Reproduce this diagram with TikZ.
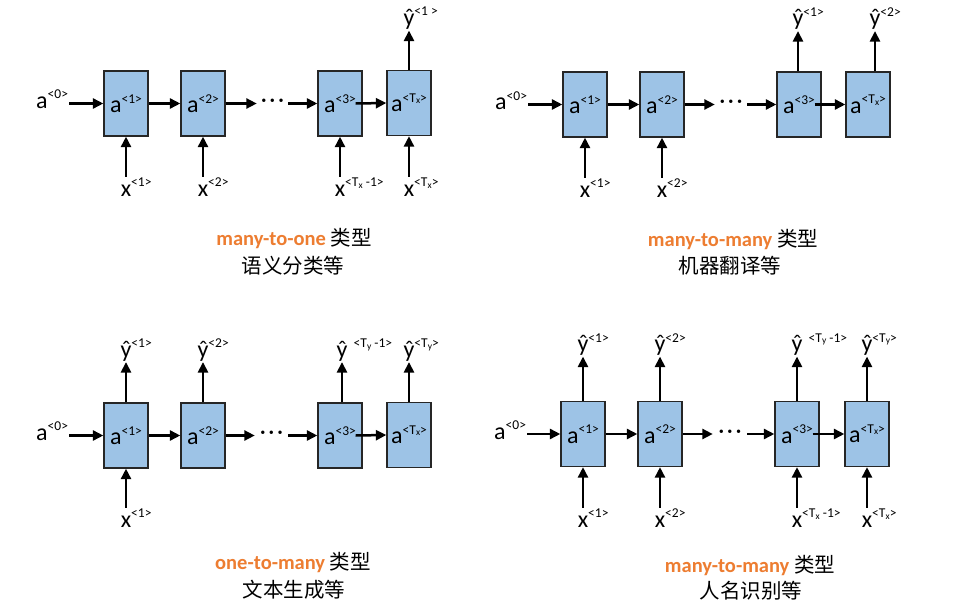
\documentclass[tikz,border=0pt]{standalone}
\usepackage{fontspec}
\setmainfont{Carlito}
\newfontfamily\cjk{Noto Sans CJK SC}
\usetikzlibrary{arrows.meta}
\definecolor{boxblue}{HTML}{9DC3E6}
\definecolor{boxline}{HTML}{262626}
\definecolor{capor}{HTML}{ED7D31}
\newcommand\supx[1]{\raisebox{9.5pt}{\fontsize{13.5}{13.5}\selectfont #1}}
\newcommand\Tsb[1]{T\kern0.2pt\raisebox{-1.5pt}{\fontsize{9.5}{9.5}\selectfont #1}}
\newcommand\glab[2]{#1\rlap{\supx{#2}}}
\newcommand\dotsym{\textperiodcentered\kern2.5pt\textperiodcentered\kern2.5pt\textperiodcentered}
\tikzset{
  cell/.style={draw=boxline, line width=1.3pt, fill=boxblue, minimum width=44pt,
    minimum height=65pt, inner sep=0pt, font=\fontsize{24}{24}\selectfont},
  lbl/.style={inner sep=1pt, anchor=base, font=\fontsize{24}{24}\selectfont},
  azero/.style={inner sep=1pt, anchor=base west, font=\fontsize{24}{24}\selectfont},
  dotsn/.style={inner sep=0pt, font=\fontsize{24}{24}\selectfont},
  arr/.style={line width=2.5pt, -{Triangle[length=10.5pt,width=10pt]}},
  capt/.style={anchor=base, inner sep=0pt, font=\fontsize{20.5}{20.5}\selectfont},
}
\begin{document}
\begin{tikzpicture}[x=1pt,y=-1pt]
\path[fill=white,use as bounding box] (0,0) rectangle (964,610);

% ---------------- Panel 1: many-to-one
\node[cell] (p1b1) at (126,103.5) {a\supx{<1>}};
\node[cell] (p1b2) at (203,103.5) {a\supx{<2>}};
\node[cell] (p1b3) at (340,103.5) {a\supx{<3>}};
\node[cell] (p1b4) at (409,103) {a\supx{<\Tsb{x}>}};
\node[azero] (p1a0) at (35,108) {a\supx{<0>}};
\node[dotsn, minimum width=31pt] (p1d) at (272.5,103.5) {\dotsym};
\draw[arr] (p1a0.east |- p1b1.west) -- (p1b1.west);
\draw[arr] (p1b1.east) -- (p1b2.west);
\draw[arr] (p1b2.east) -- (p1d.west);
\draw[arr] (p1d.east) -- (p1b3.west);
\draw[arr] ([xshift=-7pt]p1b3.east) -- (p1b4.west);
\node[lbl] (p1x1) at (126,196) {\glab{x}{<1>}};
\node[lbl] (p1x2) at (203,196) {\glab{x}{<2>}};
\node[lbl] (p1x3) at (340,196) {\glab{x}{<\Tsb{x} -1>}};
\node[lbl] (p1x4) at (409,196) {\glab{x}{<\Tsb{x}>}};
\draw[arr] (p1x1.north) -- (p1x1.north |- p1b1.south);
\draw[arr] (p1x2.north) -- (p1x2.north |- p1b2.south);
\draw[arr] (p1x3.north) -- (p1x3.north |- p1b3.south);
\draw[arr] (p1x4.north) -- (p1x4.north |- p1b4.south);
\node[lbl] (p1y1) at (409,25.5) {\glab{ŷ}{<1 >}};
\draw[arr] (p1y1.south |- p1b4.north) -- (p1y1.south);
\node[capt] (p1c1) at (294,245) {{\bfseries\color{capor}many-to-one} {\cjk 类型}};
\node[capt] (p1c2) at (293,273) {\cjk 语义分类等};

% ---------------- Panel 2: many-to-many (translation)
\node[cell] (p2b1) at (585,104.5) {a\supx{<1>}};
\node[cell] (p2b2) at (662,104.5) {a\supx{<2>}};
\node[cell] (p2b3) at (799,104.5) {a\supx{<3>}};
\node[cell] (p2b4) at (868,104.5) {a\supx{<\Tsb{x}>}};
\node[azero] (p2a0) at (494,110) {a\supx{<0>}};
\node[dotsn, minimum width=32pt] (p2d) at (731,104.5) {\dotsym};
\draw[arr] (p2a0.east |- p2b1.west) -- (p2b1.west);
\draw[arr] (p2b1.east) -- (p2b2.west);
\draw[arr] (p2b2.east) -- (p2d.west);
\draw[arr] (p2d.east) -- (p2b3.west);
\draw[arr] ([xshift=-7pt]p2b3.east) -- (p2b4.west);
\node[lbl] (p2x1) at (585,197) {\glab{x}{<1>}};
\node[lbl] (p2x2) at (662,197) {\glab{x}{<2>}};
\draw[arr] (p2x1.north) -- (p2x1.north |- p2b1.south);
\draw[arr] (p2x2.north) -- (p2x2.north |- p2b2.south);
\node[lbl] (p2y1) at (798,26) {\glab{ŷ}{<1>}};
\node[lbl] (p2y2) at (875,26) {\glab{ŷ}{<2>}};
\draw[arr] (p2y1.south |- p2b3.north) -- (p2y1.south);
\draw[arr] (p2y2.south |- p2b4.north) -- (p2y2.south);
\node[capt] (p2c1) at (733,246) {{\bfseries\color{capor}many-to-many} {\cjk 类型}};
\node[capt] (p2c2) at (730,273) {\cjk 机器翻译等};

% ---------------- Panel 3: one-to-many
\node[cell] (p3b1) at (126,435.5) {a\supx{<1>}};
\node[cell] (p3b2) at (203,435.5) {a\supx{<2>}};
\node[cell] (p3b3) at (340,435.5) {a\supx{<3>}};
\node[cell] (p3b4) at (409,435) {a\supx{<\Tsb{x}>}};
\node[azero] (p3a0) at (35,440) {a\supx{<0>}};
\node[dotsn, minimum width=33pt] (p3d) at (271.5,435.5) {\dotsym};
\draw[arr] (p3a0.east |- p3b1.west) -- (p3b1.west);
\draw[arr] (p3b1.east) -- (p3b2.west);
\draw[arr] (p3b2.east) -- (p3d.west);
\draw[arr] (p3d.east) -- (p3b3.west);
\draw[arr] ([xshift=-7pt]p3b3.east) -- (p3b4.west);
\node[lbl] (p3x1) at (126,527) {\glab{x}{<1>}};
\draw[arr] (p3x1.north) -- (p3x1.north |- p3b1.south);
\node[lbl] (p3y1) at (126,357) {\glab{ŷ}{<1>}};
\node[lbl] (p3y2) at (203,357) {\glab{ŷ}{<2>}};
\node[lbl] (p3y3) at (342,357) {\glab{ŷ}{\ \ <\Tsb{y} -1>}};
\node[lbl] (p3y4) at (409,357) {\glab{ŷ}{<\Tsb{y}>}};
\draw[arr] (p3y1.south |- p3b1.north) -- (p3y1.south);
\draw[arr] (p3y2.south |- p3b2.north) -- (p3y2.south);
\draw[arr] (p3y3.south |- p3b3.north) -- (p3y3.south);
\draw[arr] (p3y4.south |- p3b4.north) -- (p3y4.south);
\node[capt] (p3c1) at (293,569) {{\bfseries\color{capor}one-to-many} {\cjk 类型}};
\node[capt] (p3c2) at (294,597) {\cjk 文本生成等};

% ---------------- Panel 4: many-to-many (NER)
\node[cell] (p4b1) at (583,434) {a\supx{<1>}};
\node[cell] (p4b2) at (660,434) {a\supx{<2>}};
\node[cell] (p4b3) at (797,434) {a\supx{<3>}};
\node[cell] (p4b4) at (867,434) {a\supx{<\Tsb{x}>}};
\node[azero] (p4a0) at (493,439) {a\supx{<0>}};
\node[dotsn, minimum width=34pt] (p4d) at (730,434) {\dotsym};
\draw[arr] (p4a0.east |- p4b1.west) -- (p4b1.west);
\draw[arr] (p4b1.east) -- (p4b2.west);
\draw[arr] (p4b2.east) -- (p4d.west);
\draw[arr] (p4d.east) -- (p4b3.west);
\draw[arr] ([xshift=-7pt]p4b3.east) -- (p4b4.west);
\node[lbl] (p4x1) at (583,527) {\glab{x}{<1>}};
\node[lbl] (p4x2) at (660,527) {\glab{x}{<2>}};
\node[lbl] (p4x3) at (797,527) {\glab{x}{<\Tsb{x} -1>}};
\node[lbl] (p4x4) at (867,527) {\glab{x}{<\Tsb{x}>}};
\draw[arr] (p4x1.north) -- (p4x1.north |- p4b1.south);
\draw[arr] (p4x2.north) -- (p4x2.north |- p4b2.south);
\draw[arr] (p4x3.north) -- (p4x3.north |- p4b3.south);
\draw[arr] (p4x4.north) -- (p4x4.north |- p4b4.south);
\node[lbl] (p4y1) at (583,351.5) {\glab{ŷ}{<1>}};
\node[lbl] (p4y2) at (660,351.5) {\glab{ŷ}{<2>}};
\node[lbl] (p4y3) at (797,351.5) {\glab{ŷ}{\ \ <\Tsb{y} -1>}};
\node[lbl] (p4y4) at (867,351.5) {\glab{ŷ}{<\Tsb{y}>}};
\draw[arr] (p4y1.south |- p4b1.north) -- (p4y1.south);
\draw[arr] (p4y2.south |- p4b2.north) -- (p4y2.south);
\draw[arr] (p4y3.south |- p4b3.north) -- (p4y3.south);
\draw[arr] (p4y4.south |- p4b4.north) -- (p4y4.south);
\node[capt] (p4c1) at (750,572) {{\bfseries\color{capor}many-to-many} {\cjk 类型}};
\node[capt] (p4c2) at (751,598) {\cjk 人名识别等};
\end{tikzpicture}
\end{document}
